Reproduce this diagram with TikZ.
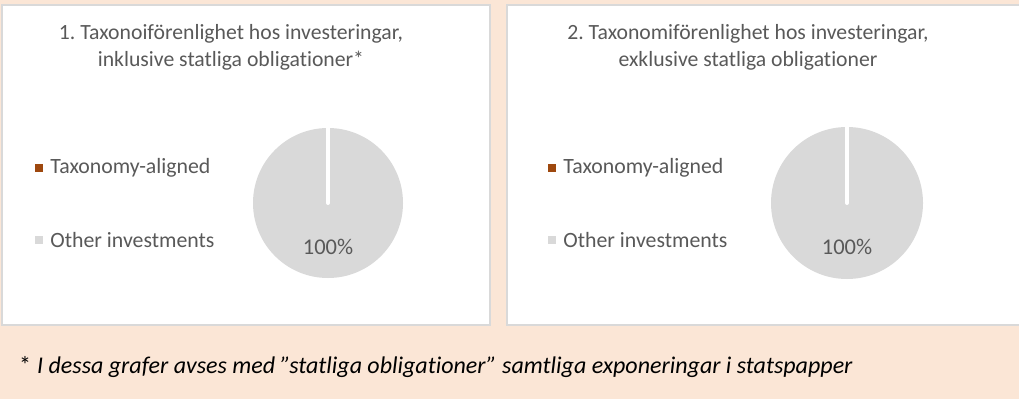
\documentclass[tikz,border=0pt]{standalone}
\usepackage{fontspec}
\setmainfont{Carlito}[Ligatures=NoCommon]
\usepackage{tikz}
\usetikzlibrary{positioning}
\frenchspacing
\definecolor{peach}{RGB}{251,230,214}
\definecolor{panelgray}{RGB}{217,217,217}
\definecolor{textgray}{RGB}{89,89,89}
\definecolor{taxbrown}{RGB}{158,72,14}
\tikzset{%
  chart panel/.style={
    draw=panelgray,
    line width=2pt,
    fill=white
  },
  chart title/.style={
    text=textgray,
    align=center,
    font=\fontsize{21.7}{27}\selectfont
  },
  legend key/.style={
    minimum size=8pt,
    inner sep=0pt
  },
  legend text/.style={
    text=textgray,
    anchor=west,
    inner sep=0pt,
    font=\fontsize{21.8}{24}\selectfont
  },
  pie label/.style={
    text=textgray,
    font=\fontsize{22.5}{24}\selectfont
  },
}

\begin{document}
\begin{tikzpicture}[x=1pt, y=-1pt]
\useasboundingbox[fill=peach] (0,0) rectangle (1019,399);
\begin{scope}
\clip (0,0) rectangle (1019,399);
    \draw[chart panel] (2,5) rectangle (490,325);
    \draw[chart panel] (507,5) rectangle (1030,325);
\end{scope}

% first chart
\node[chart title] (title1) at (231,47) {1. Taxonoiförenlighet hos investeringar,\\inklusive statliga obligationer*};
\fill[panelgray] (328,203) circle (75);
\coordinate (centre1) at (328,203);
\coordinate (top1) at (328,128);
\draw[white, line width=4pt, line cap=round] (centre1) -- (top1);
\node[pie label] (pct1) at (328,247) {100\%};
\node[legend key, fill=taxbrown] (key1a) at (39,168) {};
\node[legend text, right=7pt of key1a] (label1a) {Taxonomy-aligned};
\node[legend key, fill=panelgray] (key1b) at (39,240) {};
\node[legend text, right=7pt of key1b] (label1b) {Other investments};

% second chart
\node[chart title] (title2) at (748,47) {2. Taxonomiförenlighet hos investeringar,\\exklusive statliga obligationer};
\fill[panelgray] (847,203) circle (76);
\coordinate (centre2) at (847,203);
\coordinate (top2) at (847,127);
\draw[white, line width=4pt, line cap=round] (centre2) -- (top2);
\node[pie label] (pct2) at (847,247) {100\%};
\node[legend key, fill=taxbrown] (key2a) at (552,168) {};
\node[legend text, right=7pt of key2a] (label2a) {Taxonomy-aligned};
\node[legend key, fill=panelgray] (key2b) at (552,240) {};
\node[legend text, right=7pt of key2b] (label2b) {Other investments};

% footnote
\node[anchor=base west, inner sep=0pt, font=\fontsize{24}{28}\selectfont] (note) at (19,373) {*\hspace{6pt}\textit{I dessa grafer avses med ”statliga obligationer” samtliga exponeringar i statspapper}};
\end{tikzpicture}
\end{document}
